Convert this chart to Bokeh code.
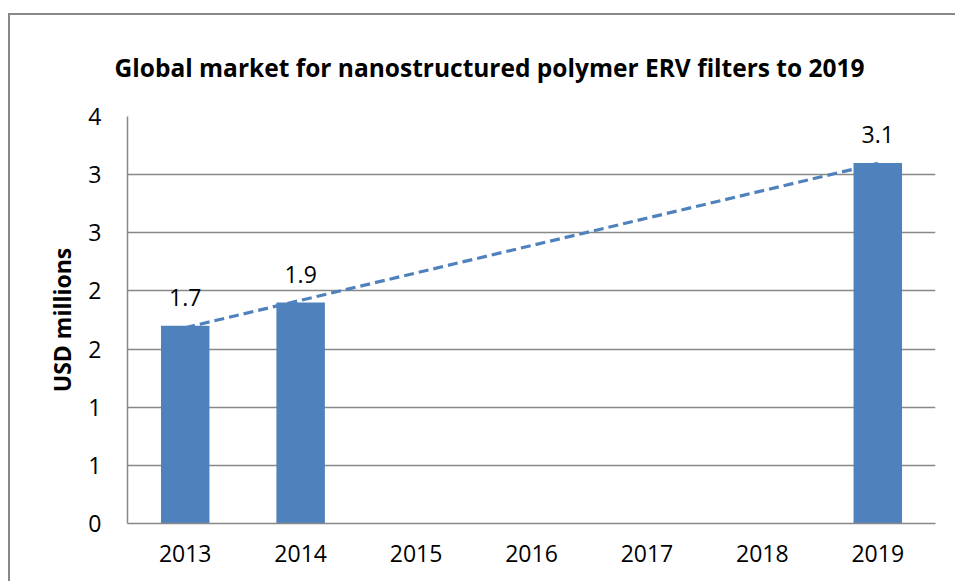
import numpy as np
from bokeh.plotting import figure
from bokeh.models import (ColumnDataSource, FactorRange, Range1d, FixedTicker,
                          LabelSet, Title)
from bokeh.core.properties import value
from bokeh.embed import file_html
from bokeh.resources import INLINE

# ---- data ----
years = ["2013", "2014", "2015", "2016", "2017", "2018", "2019"]
bar_years = ["2013", "2014", "2019"]
bar_values = [1.7, 1.9, 3.1]
bar_labels = ["1.7", "1.9", "3.1"]
y_ticks = [0, 0.5, 1.0, 1.5, 2.0, 2.5, 3.0, 3.5]
y_tick_labels = ["0", "1", "1", "2", "2", "3", "3", "4"]
title_text = "Global market for nanostructured polymer ERV filters to 2019"

FONT = "Open Sans"
BAR = "#4F81BD"
GRID = "#888888"

p = figure(x_range=FactorRange(*years), y_range=Range1d(0, 3.5),
           width=947, height=568, output_backend="svg", toolbar_location=None,
           min_border_left=117, min_border_right=22, min_border_top=100,
           min_border_bottom=60)
p.margin = (13, 0, 0, 8)
p.styles = {"border-left": "2px solid #888888", "border-top": "2px solid #888888"}
p.title = None
p.add_layout(Title(text=title_text,
                   text_font=FONT, text_font_size="24.5px", text_font_style="bold",
                   text_color="#000000", align="left", offset=-13, standoff=66), "above")
p.outline_line_color = None

src = ColumnDataSource(dict(x=bar_years, top=bar_values, lab=bar_labels))
p.vbar(x="x", top="top", width=0.42, source=src, fill_color=BAR, line_color=None)

# linear trendline over the category positions
xi = np.array([years.index(y) for y in bar_years], dtype=float)
k, b = np.polyfit(xi, np.array(bar_values), 1)
p.line(x=[bar_years[0], bar_years[-1]], y=[k * xi[0] + b, k * xi[-1] + b],
       line_color=BAR, line_width=3.2, line_dash="10 5")

p.add_layout(LabelSet(x="x", y="top", text="lab", source=src, y_offset=20,
                      text_align="center", text_baseline="bottom",
                      text_font=value(FONT), text_font_size="23px", text_color="#000000"))

p.xgrid.grid_line_color = None
p.ygrid.grid_line_color = GRID
p.ygrid.grid_line_width = 1.5
p.yaxis.ticker = FixedTicker(ticks=y_ticks)
p.yaxis.major_label_overrides = {t: l for t, l in zip(y_ticks, y_tick_labels)}

for ax in (p.xaxis, p.yaxis):
    ax.axis_line_color = GRID
    ax.axis_line_width = 1.5
    ax.major_tick_line_color = None
    ax.minor_tick_line_color = None
    ax.major_tick_out = 0
    ax.major_tick_in = 0
    ax.major_label_text_font = FONT
    ax.major_label_text_font_size = "23px"
    ax.major_label_text_color = "#000000"

p.xaxis.major_label_standoff = 21
p.yaxis.major_label_standoff = 26
p.yaxis.axis_label = "USD millions"
p.yaxis.axis_label_text_font = FONT
p.yaxis.axis_label_text_font_size = "23px"
p.yaxis.axis_label_text_font_style = "bold"
p.yaxis.axis_label_text_color = "#000000"
p.yaxis.axis_label_standoff = 7

open("out.html", "w").write(file_html(p, INLINE))
